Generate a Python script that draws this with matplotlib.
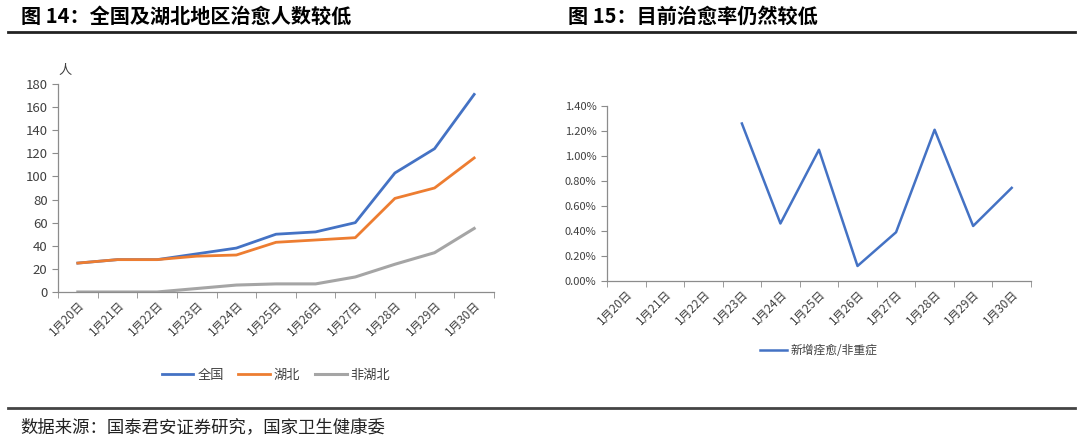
import numpy as np
import matplotlib
matplotlib.use('Agg')
import matplotlib.pyplot as plt
from matplotlib.ticker import FuncFormatter, FixedLocator

plt.rcParams['font.family'] = ['Noto Sans CJK SC', 'DejaVu Sans']

dates = ['1月20日', '1月21日', '1月22日', '1月23日', '1月24日', '1月25日',
         '1月26日', '1月27日', '1月28日', '1月29日', '1月30日']
quanguo = [25, 28, 28, 33, 38, 50, 52, 60, 103, 124, 171]
hubei = [25, 28, 28, 31, 32, 43, 45, 47, 81, 90, 116]
fei_hubei = [0, 0, 0, 3, 6, 7, 7, 13, 24, 34, 55]
ratio = [np.nan, np.nan, np.nan, 1.26, 0.46, 1.05, 0.12, 0.39, 1.21, 0.44, 0.745]  # %

blue, orange, grey = '#4472C4', '#ED7D31', '#A5A5A5'
axis_col = '#8C8C8C'
txt_col = '#404040'

fig = plt.figure(figsize=(10.8, 4.4), dpi=100)


def style_axes(ax):
    for s in ['top', 'right']:
        ax.spines[s].set_visible(False)
    for s in ['left', 'bottom']:
        ax.spines[s].set_color(axis_col)
        ax.spines[s].set_linewidth(0.9)
    x = np.arange(len(dates))
    ax.set_xlim(-0.5, len(dates) - 0.5)
    ax.set_xticks(x)
    ax.set_xticklabels(dates, rotation=45, ha='right', rotation_mode='anchor',
                       fontsize=8.5, color=txt_col)
    ax.tick_params(axis='x', length=0, pad=5)
    # tick marks between categories
    ax.xaxis.set_minor_locator(FixedLocator(np.arange(-0.5, len(dates), 1)))
    ax.tick_params(axis='x', which='minor', length=4, color=axis_col)
    ax.tick_params(axis='y', length=4, color=axis_col, labelsize=9.5, labelcolor=txt_col)


# left chart
ax1 = fig.add_axes([0.0537, 0.3364, 0.4037, 0.4727])
x = np.arange(len(dates))
ax1.plot(x, quanguo, color=blue, lw=2, label='全国')
ax1.plot(x, hubei, color=orange, lw=2, label='湖北')
ax1.plot(x, fei_hubei, color=grey, lw=2.2, label='非湖北')
ax1.set_ylim(0, 180)
ax1.set_yticks(range(0, 181, 20))
style_axes(ax1)
fig.text(0.0537, 0.84, '人', fontsize=9.5, color=txt_col, ha='left', va='center')
ax1.legend(loc='center', bbox_to_anchor=(0.5, -0.4), ncol=3, frameon=False,
           fontsize=9.5, handlelength=2.4, columnspacing=1.1, handletextpad=0.3,
           labelcolor=txt_col)

# right chart
ax2 = fig.add_axes([0.562, 0.3614, 0.3926, 0.3977])
ax2.plot(x, ratio, color=blue, lw=1.8, label='新增痊愈/非重症')
ax2.set_ylim(0, 1.4)
ax2.set_yticks(np.arange(0, 1.41, 0.2))
ax2.yaxis.set_major_formatter(FuncFormatter(lambda v, p: f'{v:.2f}%'))
style_axes(ax2)
ax2.tick_params(axis='y', labelsize=8)
ax2.legend(loc='center', bbox_to_anchor=(0.5, -0.4), ncol=1, frameon=False,
           fontsize=8.5, handlelength=2.3, handletextpad=0.3, labelcolor=txt_col)

# titles, rules and source
fig.text(0.019, 0.962, '图 14：全国及湖北地区治愈人数较低', fontsize=14.5,
         fontweight='bold', ha='left', va='center', color='black')
fig.text(0.526, 0.962, '图 15：目前治愈率仍然较低', fontsize=14.5,
         fontweight='bold', ha='left', va='center', color='black')
fig.add_artist(plt.Line2D([0.007, 0.995], [0.927, 0.927], color='#222222', lw=2))
fig.add_artist(plt.Line2D([0.007, 0.995], [0.072, 0.072], color='#444444', lw=2))
fig.text(0.019, 0.028, '数据来源：国泰君安证券研究，国家卫生健康委', fontsize=12.5,
         ha='left', va='center', color='#222222')

fig.savefig('out.png', dpi=100)
